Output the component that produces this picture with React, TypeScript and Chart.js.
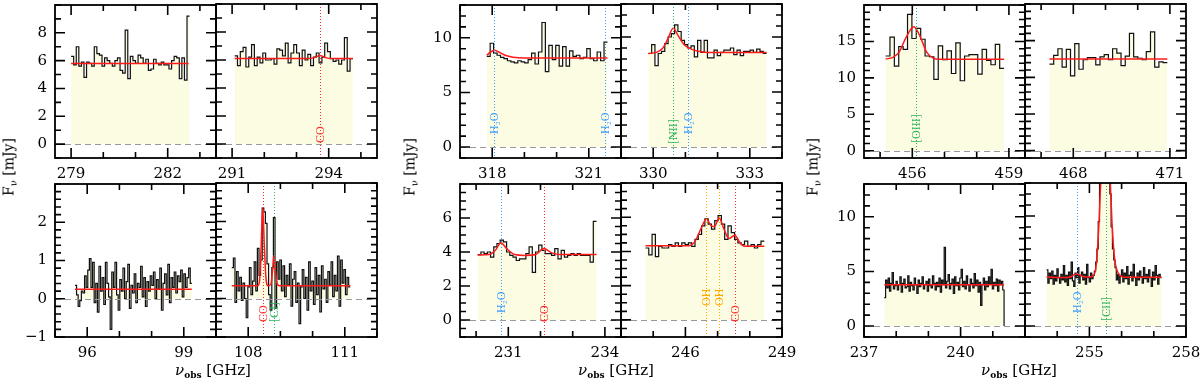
import React, { useEffect, useRef } from "react";
import { Chart, registerables } from "chart.js";
Chart.register(...registerables);

// ---------------- DATA ----------------
const g1TopY = [-1, 10];
const g1TopYLabels = [0, 2, 4, 6, 8];
const g1BotY = [-1, 3];
const g1BotYLabels = [-1, 0, 1, 2];
const g2TopY = [-1, 13];
const g2TopYLabels = [0, 5, 10];
const g2BotY = [-1, 8];
const g2BotYLabels = [0, 2, 4, 6];
const g3TopY = [-1, 20];
const g3TopYLabels = [0, 5, 10, 15];
const g3BotY = [-1, 13];
const g3BotYLabels = [0, 5, 10];

// Panel A (279-282 GHz)
const aRange = [278.5, 283.5];
const aXLabels = [279, 282];
const aSpan = [279.0, 282.68];
const aFlux = [6.3, 5.7, 7.0, 5.6, 5.9, 4.8, 5.9, 5.8, 5.6, 7.0, 6.5, 6.4, 5.6, 6.2, 6.0, 5.8, 5.6, 6.0, 6.2, 5.3, 5.1, 8.2, 4.7, 6.3, 6.0, 5.8, 6.4, 6.2, 5.8, 6.1, 5.3, 5.4, 6.1, 5.8, 5.7, 5.9, 5.7, 5.7, 5.4, 6.0, 6.3, 6.2, 4.7, 6.2, 4.6, 9.2];
const aModel = [[279.0, 5.8], [282.65, 5.8]];
const aLines: [number, string][] = [];

// Panel B (291-294 GHz)
const bRange = [290.5, 295.5];
const bXLabels = [291, 294];
const bSpan = [291.08, 294.75];
const bFlux = [6.3, 5.6, 6.6, 6.9, 5.5, 6.2, 7.1, 5.6, 6.2, 5.8, 6.5, 6.0, 6.0, 6.1, 5.7, 6.8, 6.7, 6.3, 7.2, 5.8, 6.5, 7.1, 6.5, 5.6, 6.7, 6.0, 6.4, 5.6, 6.2, 6.5, 5.8, 6.2, 7.2, 6.6, 6.1, 5.9, 6.0, 5.7, 6.0, 7.6, 5.2, 6.1];
const bModel = [[291.08, 6.1], [293.35, 6.1], [293.55, 6.17], [293.73, 6.32], [293.9, 6.17], [294.1, 6.1], [294.75, 6.1]];
const bLines: [number, string][] = [[293.73, "CO"]];

// Panel C (96-99 GHz)
const cRange = [95, 100];
const cXLabels = [96, 99];
const cSpan = [95.62, 99.25];
const cFlux = [0.35, 0.1, -0.2, -0.05, 0.2, 0.15, 0.6, 0.3, 0.75, 1.05, 0.3, 0.95, -0.1, 0.4, -0.35, 0.85, 0.2, 0.55, -0.15, 0.95, 0.4, 0.05, -0.8, 0.7, 0.3, 0.95, 0.1, -0.3, 0.5, 0.2, 0.8, 0.0, 0.45, 0.9, -0.25, 0.35, 0.15, 0.65, -0.1, 0.4, 0.3, 0.85, 0.05, 0.55, -0.2, 0.45, 0.2, 0.6, 0.35, 0.7, 0.0, 0.5, 0.25, 0.8, -0.3, 0.4, 0.65, 0.1, 0.9, -0.1, 0.55, 0.3, 0.7, 0.15, 0.6, 0.45, 0.75, 0.05, 0.65, 0.3, 0.55, 0.8, 0.4];
const cModel = [[95.62, 0.25], [99.25, 0.25]];
const cLines: [number, string][] = [];

// Panel D (108-111 GHz)
const dRange = [107, 112];
const dXLabels = [108, 111];
const dSpan = [107.49, 111.17];
const dFlux = [0.8, 1.05, -0.1, 0.7, 0.2, 0.55, -0.05, 0.4, 0.0, -0.5, 0.3, 0.8, 0.1, 0.45, 0.95, 0.2, 1.3, 0.6, 1.0, 2.35, 2.25, 1.95, 0.9, 0.1, -0.3, 0.8, 2.1, -0.25, 0.95, 0.5, 1.0, 0.2, 0.85, 0.05, 0.6, 0.35, 0.9, -0.2, 0.5, 0.7, -0.1, 0.4, -0.65, 0.3, 0.75, 0.0, 0.55, -0.3, 0.95, 0.2, 0.45, -0.15, 0.8, 0.1, 0.6, -0.35, 0.85, 0.25, 0.5, -0.1, 0.7, 0.35, 0.95, 0.05, 0.6, 0.2, 1.1, -0.2, 1.0, 0.4, 0.75, 0.1, 0.55, 0.3];
const dModel = [[107.49, 0.33], [108.3, 0.33], [108.35, 0.45], [108.4, 1.3], [108.45, 2.35], [108.5, 1.4], [108.55, 0.55], [108.62, 0.33], [108.7, 0.36], [108.76, 0.75], [108.8, 1.12], [108.84, 0.75], [108.9, 0.38], [108.97, 0.33], [111.17, 0.33]];
const dLines: [number, string][] = [[108.45, "CO"], [108.8, "[CI]"]];

// Panel E (318-321 GHz)
const eRange = [317, 322];
const eXLabels = [318, 321];
const eSpan = [317.83, 321.58];
const eFlux = [8.3, 9.5, 8.6, 8.4, 8.2, 8.1, 7.9, 7.8, 7.7, 7.9, 7.8, 7.7, 8.0, 8.6, 7.6, 8.7, 11.4, 6.9, 9.3, 8.0, 9.3, 7.4, 9.2, 7.4, 8.8, 8.3, 8.4, 8.1, 8.2, 9.0, 8.1, 7.9, 8.7, 7.9, 9.6];
const eModel = [[317.83, 8.4], [317.95, 8.7], [318.07, 8.85], [318.2, 8.7], [318.4, 8.4], [318.65, 8.22], [319.0, 8.15], [321.58, 8.15]];
const eLines: [number, string][] = [[318.07, "H₂O"], [321.5, "H₂O"]];

// Panel F (330-333 GHz)
const fRange = [329, 334];
const fXLabels = [330, 333];
const fSpan = [329.85, 333.52];
const fFlux = [8.5, 9.3, 7.4, 8.5, 8.7, 9.4, 10.0, 10.3, 11.1, 10.5, 9.7, 9.3, 9.0, 9.2, 8.2, 9.7, 8.6, 9.7, 8.1, 8.1, 8.8, 8.3, 8.6, 8.8, 8.8, 9.0, 8.4, 8.8, 8.3, 8.7, 8.7, 8.8, 8.6, 8.9, 8.7, 8.5];
const fModel = [[329.85, 8.5], [330.1, 8.6], [330.3, 9.0], [330.45, 9.8], [330.62, 10.8], [330.78, 10.1], [330.95, 9.35], [331.15, 8.95], [331.4, 8.7], [331.7, 8.6], [333.52, 8.6]];
const fLines: [number, string][] = [[330.62, "[NII]"], [331.09, "H₂O"]];

// Panel G (231-234 GHz)
const gRange = [229.5, 234.5];
const gXLabels = [231, 234];
const gSpan = [230.05, 233.74];
const gFlux = [3.85, 4.0, 3.9, 4.0, 3.7, 4.3, 4.5, 4.7, 4.6, 4.0, 3.8, 3.7, 3.5, 3.6, 3.6, 3.9, 4.3, 2.8, 4.0, 4.4, 4.1, 3.9, 3.9, 3.8, 4.2, 3.6, 4.1, 3.7, 3.8, 3.9, 3.8, 3.9, 3.8, 3.8, 3.8, 3.4, 5.8];
const gModel = [[230.05, 3.82], [230.4, 3.85], [230.6, 4.1], [230.77, 4.55], [230.95, 4.2], [231.2, 3.85], [231.5, 3.8], [231.85, 3.85], [232.1, 4.2], [232.35, 3.95], [232.6, 3.85], [233.74, 3.85]];
const gLines: [number, string][] = [[230.77, "H₂O"], [232.1, "CO"]];

// Panel H (246-249 GHz)
const hRange = [244, 249];
const hXLabels = [246, 249];
const hSpan = [244.76, 248.45];
const hFlux = [4.2, 3.8, 5.0, 3.7, 4.3, 4.2, 4.2, 4.4, 4.3, 4.5, 4.3, 4.5, 4.4, 4.5, 4.3, 4.7, 5.0, 5.5, 5.9, 5.6, 5.3, 5.8, 6.1, 5.6, 4.7, 5.5, 5.1, 4.7, 4.5, 4.4, 4.6, 4.3, 4.4, 4.2, 4.4, 4.6];
const hModel = [[244.76, 4.33], [246.1, 4.33], [246.3, 4.6], [246.5, 5.4], [246.65, 5.9], [246.8, 5.5], [246.9, 5.45], [247.05, 5.95], [247.2, 5.3], [247.35, 4.75], [247.53, 4.95], [247.7, 4.5], [247.85, 4.3], [248.45, 4.3]];
const hLines: [number, string][] = [[246.65, "OH"], [247.05, "OH"], [247.55, "CO"]];

// Panel I (456-459 GHz)
const iRange = [454.5, 459.5];
const iXLabels = [456, 459];
const iSpan = [455.17, 458.85];
const iFlux = [13.0, 15.6, 11.6, 14.3, 13.9, 18.7, 15.4, 16.8, 15.3, 13.0, 12.9, 9.8, 14.4, 12.5, 13.7, 10.6, 14.8, 9.6, 13.0, 13.2, 13.2, 10.5, 13.9, 12.4, 11.8, 14.6, 11.3];
const iModel = [[455.17, 12.6], [455.4, 12.8], [455.6, 13.6], [455.8, 15.5], [456.05, 17.0], [456.25, 15.6], [456.45, 13.5], [456.65, 12.7], [456.85, 12.55], [458.85, 12.55]];
const iLines: [number, string][] = [[456.1, "[OIII]"]];

// Panel J (468-471 GHz)
const jRange = [466.5, 471.5];
const jXLabels = [468, 471];
const jSpan = [467.26, 470.92];
const jFlux = [11.8, 13.0, 13.9, 11.4, 13.8, 10.2, 14.6, 11.1, 12.4, 12.7, 12.7, 11.7, 12.8, 13.1, 12.4, 13.9, 13.3, 11.6, 12.9, 16.0, 12.8, 12.6, 12.4, 13.5, 16.2, 11.4, 12.1, 12.0];
const jModel = [[467.26, 12.5], [470.92, 12.5]];
const jLines: [number, string][] = [];

// Panel K (237-240 GHz)
const kRange = [237, 242];
const kXLabels = [237, 240];
const kSpan = [237.63, 241.35];
const kFlux = [2.6, 4.2, 3.5, 4.4, 3.2, 3.9, 4.9, 3.4, 3.7, 4.1, 3.3, 3.8, 4.5, 3.1, 3.9, 4.3, 3.5, 3.6, 4.6, 3.2, 4.0, 3.7, 3.3, 4.4, 3.8, 3.0, 4.2, 3.6, 3.9, 4.5, 3.4, 3.8, 4.1, 3.2, 4.3, 3.7, 3.5, 4.6, 3.9, 3.3, 4.0, 3.6, 4.4, 3.1, 4.2, 3.8, 7.2, 3.5, 4.1, 4.7, 3.4, 3.9, 4.3, 3.0, 4.5, 3.7, 4.0, 3.3, 4.4, 5.2, 3.6, 4.1, 3.4, 4.6, 3.8, 3.2, 4.3, 3.9, 3.5, 4.8, 3.7, 4.2, 3.1, 4.0, 1.9, 3.8, 4.4, 3.3, 4.1, 3.6, 4.5, 3.9, 5.2, 3.4, 4.0, 3.7, 4.3, 3.2, 4.2, 3.8, 4.1, 3.3];
const kEndFlux = 0;
const kModel = [[237.63, 3.77], [241.35, 3.77]];
const kLines: [number, string][] = [];

// Panel L (255-258 GHz)
const lRange = [253, 258];
const lXLabels = [255, 258];
const lSpan = [253.67, 257.24];
const lFlux = [5.1, 3.9, 4.8, 4.3, 5.0, 3.8, 4.6, 4.1, 5.2, 4.4, 3.9, 4.7, 4.2, 5.5, 4.0, 4.6, 3.7, 4.9, 4.3, 5.8, 4.1, 3.6, 4.8, 4.4, 5.3, 3.9, 4.6, 4.9, 4.2, 4.7, 3.8, 5.6, 4.4, 4.0, 4.8, 4.3, 4.6, 5.0, 5.8, 7.0, 9.5, 13.0, 16.5, 19.0, 20.5, 21.0, 20.0, 18.0, 15.0, 12.0, 9.0, 7.0, 6.0, 5.3, 4.2, 4.7, 3.9, 4.5, 5.1, 4.0, 4.8, 4.3, 5.4, 3.8, 4.6, 4.9, 4.1, 5.6, 4.4, 3.7, 4.8, 4.2, 5.0, 4.5, 3.9, 5.3, 4.3, 4.7, 4.0, 5.1, 4.4, 3.6, 4.9, 4.2, 5.5, 4.6, 3.8, 4.7, 4.4];
const lModel = [[253.67, 4.45], [254.2, 4.4], [254.4, 4.45], [254.6, 4.75], [254.8, 4.5], [255.0, 4.45], [255.15, 4.7], [255.22, 5.8], [255.3, 9.5], [255.38, 15], [255.5, 20], [255.62, 15], [255.7, 9.5], [255.78, 6.2], [255.88, 4.9], [256.0, 4.5], [256.1, 4.43], [257.24, 4.43]];
const lLines: [number, string][] = [[254.6, "H₂O"], [255.5, "[CII]"]];

// ---------------- STYLE / LAYOUT ----------------
const SERIF = "'DejaVu Serif', serif";
const LABEL_FONT = "12px 'Liberation Serif', serif";
const FILL = "#fcfce3";
const MODEL_RED = "#ff1a1a";
const LINE_STYLE: Record<string, { color: string; offset: number }> = {
  "CO": { color: "#ff2a2a", offset: 15 },
  "[CI]": { color: "#2db35a", offset: 15 },
  "[NII]": { color: "#2db35a", offset: 14 },
  "[OIII]": { color: "#2db35a", offset: 15 },
  "[CII]": { color: "#2db35a", offset: 16 },
  "H₂O": { color: "#3a9cff", offset: 24 },
  "OH": { color: "#ffaa00", offset: 31 },
};
const PANEL_W = 161;
const PANEL_H = 154;
const PAD_L = 50;
const PAD_T = 8;
const PAD_R = 24;
const PAD_B = 28;
const GROUP_LEFT = [55, 460, 864];
const ROW_TOP = [4, 183];

type Axis = { range: number[]; labels: number[]; minor: number };
const groupAxes: Axis[][] = [
  [{ range: g1TopY, labels: g1TopYLabels, minor: 1 }, { range: g1BotY, labels: g1BotYLabels, minor: 0.2 }],
  [{ range: g2TopY, labels: g2TopYLabels, minor: 1 }, { range: g2BotY, labels: g2BotYLabels, minor: 0.5 }],
  [{ range: g3TopY, labels: g3TopYLabels, minor: 1 }, { range: g3BotY, labels: g3BotYLabels, minor: 1 }],
];

type PanelCfg = {
  g: number; row: number; col: number;
  range: number[]; xLabels: number[]; span: number[]; flux: number[];
  endFlux?: number; model: number[][]; lines: [number, string][];
};

const panels: PanelCfg[] = [
  { g: 0, row: 0, col: 0, range: aRange, xLabels: aXLabels, span: aSpan, flux: aFlux, model: aModel, lines: aLines },
  { g: 0, row: 0, col: 1, range: bRange, xLabels: bXLabels, span: bSpan, flux: bFlux, model: bModel, lines: bLines },
  { g: 0, row: 1, col: 0, range: cRange, xLabels: cXLabels, span: cSpan, flux: cFlux, model: cModel, lines: cLines },
  { g: 0, row: 1, col: 1, range: dRange, xLabels: dXLabels, span: dSpan, flux: dFlux, model: dModel, lines: dLines },
  { g: 1, row: 0, col: 0, range: eRange, xLabels: eXLabels, span: eSpan, flux: eFlux, model: eModel, lines: eLines },
  { g: 1, row: 0, col: 1, range: fRange, xLabels: fXLabels, span: fSpan, flux: fFlux, model: fModel, lines: fLines },
  { g: 1, row: 1, col: 0, range: gRange, xLabels: gXLabels, span: gSpan, flux: gFlux, model: gModel, lines: gLines },
  { g: 1, row: 1, col: 1, range: hRange, xLabels: hXLabels, span: hSpan, flux: hFlux, model: hModel, lines: hLines },
  { g: 2, row: 0, col: 0, range: iRange, xLabels: iXLabels, span: iSpan, flux: iFlux, model: iModel, lines: iLines },
  { g: 2, row: 0, col: 1, range: jRange, xLabels: jXLabels, span: jSpan, flux: jFlux, model: jModel, lines: jLines },
  { g: 2, row: 1, col: 0, range: kRange, xLabels: kXLabels, span: kSpan, flux: kFlux, endFlux: kEndFlux, model: kModel, lines: kLines },
  { g: 2, row: 1, col: 1, range: lRange, xLabels: lXLabels, span: lSpan, flux: lFlux, model: lModel, lines: lLines },
];

function stepPoints(p: PanelCfg) {
  const n = p.flux.length;
  const w = (p.span[1] - p.span[0]) / n;
  const pts = p.flux.map((v, i) => ({ x: p.span[0] + i * w, y: v }));
  pts.push({ x: p.span[1], y: p.flux[n - 1] });
  if (p.endFlux !== undefined) pts.push({ x: p.span[1], y: p.endFlux });
  return pts;
}

function fmt(v: number) {
  return v < 0 ? "−" + Math.abs(v) : String(v);
}

// tick positions from the scale (minor every `step`, long at labelled values)
function tickList(min: number, max: number, step: number, labels: number[]) {
  const out: { v: number; major: boolean }[] = [];
  const k0 = Math.ceil(min / step - 1e-9);
  const k1 = Math.floor(max / step + 1e-9);
  for (let k = k0; k <= k1; k++) {
    const v = Math.round(k * step * 1000) / 1000;
    out.push({ v, major: labels.some((l) => Math.abs(l - v) < 1e-6) });
  }
  return out;
}

function makeDecor(p: PanelCfg, axis: Axis) {
  return {
    id: "panelDecor" + p.g + p.row + p.col,
    afterDatasetsDraw(chart: any) {
      const ctx: CanvasRenderingContext2D = chart.ctx;
      const a = chart.chartArea;
      const xs = chart.scales.x;
      const ys = chart.scales.y;
      const L = a.left, R = a.right, T = a.top, B = a.bottom;

      // markers and zero line (clipped)
      ctx.save();
      ctx.beginPath();
      ctx.rect(L, T, R - L, B - T);
      ctx.clip();
      const y0 = Math.round(ys.getPixelForValue(0)) + 0.5;
      ctx.strokeStyle = "#9a9a9a";
      ctx.lineWidth = 1;
      ctx.setLineDash([6, 4]);
      ctx.beginPath();
      ctx.moveTo(L, y0);
      ctx.lineTo(R, y0);
      ctx.stroke();
      for (const [freq, label] of p.lines) {
        const st = LINE_STYLE[label];
        const x = Math.round(xs.getPixelForValue(freq)) + 0.5;
        ctx.strokeStyle = st.color;
        ctx.setLineDash([1, 2]);
        ctx.beginPath();
        ctx.moveTo(x, T);
        ctx.lineTo(x, B);
        ctx.stroke();
        ctx.setLineDash([]);
        ctx.save();
        ctx.translate(x, B - st.offset);
        ctx.rotate(-Math.PI / 2);
        ctx.font = LABEL_FONT;
        ctx.fillStyle = st.color;
        ctx.textAlign = "left";
        ctx.textBaseline = "middle";
        ctx.fillText(label, 0, 0);
        ctx.restore();
      }
      ctx.restore();

      // inward tick marks on all four sides
      ctx.save();
      ctx.setLineDash([]);
      ctx.strokeStyle = "#000000";
      ctx.lineWidth = 1.6;
      ctx.beginPath();
      const xt = tickList(p.range[0], p.range[1], 1, p.xLabels);
      for (const t of xt) {
        const x = xs.getPixelForValue(t.v);
        const len = t.major ? 10 : 6;
        ctx.moveTo(x, B);
        ctx.lineTo(x, B - len);
        ctx.moveTo(x, T);
        ctx.lineTo(x, T + len);
      }
      const yt = tickList(axis.range[0], axis.range[1], axis.minor, axis.labels);
      for (const t of yt) {
        const y = ys.getPixelForValue(t.v);
        const len = t.major ? 10 : 6;
        ctx.moveTo(L, y);
        ctx.lineTo(L + len, y);
        ctx.moveTo(R, y);
        ctx.lineTo(R - len, y);
      }
      ctx.stroke();
      // frame
      ctx.lineWidth = 1.8;
      ctx.strokeRect(L, T, R - L, B - T);
      ctx.restore();
    },
  };
}

function Panel({ p }: { p: PanelCfg }) {
  const ref = useRef<HTMLCanvasElement>(null);
  const axis = groupAxes[p.g][p.row];
  const left = GROUP_LEFT[p.g] + p.col * PANEL_W - PAD_L;
  const top = ROW_TOP[p.row] - PAD_T;
  const cw = PAD_L + PANEL_W + PAD_R;
  const ch = PAD_T + PANEL_H + PAD_B;

  useEffect(() => {
    const chart = new Chart(ref.current as HTMLCanvasElement, {
      type: "line",
      data: {
        datasets: [
          {
            data: p.model.map(([x, y]) => ({ x, y })),
            borderColor: MODEL_RED,
            borderWidth: 1.5,
            pointRadius: 0,
            cubicInterpolationMode: "monotone",
            fill: false,
            clip: 0,
          },
          {
            data: stepPoints(p),
            borderColor: "#111",
            borderWidth: 1.2,
            pointRadius: 0,
            stepped: "before",
            fill: { target: "origin", above: FILL, below: FILL },
            backgroundColor: FILL,
            clip: 0,
          },
        ],
      } as any,
      options: {
        animation: false,
        responsive: false,
        maintainAspectRatio: false,
        events: [],
        layout: { padding: { left: 0, top: PAD_T, right: PAD_R, bottom: 0 } },
        plugins: { legend: { display: false }, tooltip: { enabled: false } },
        scales: {
          x: {
            type: "linear",
            min: p.range[0],
            max: p.range[1],
            grid: { display: false },
            border: { display: false },
            ticks: {
              autoSkip: false,
              maxRotation: 0,
              padding: -1,
              color: "#000",
              font: { family: SERIF, size: 15 },
              callback: (v: any) => fmt(Number(v)),
            },
            afterBuildTicks: (s: any) => {
              s.ticks = p.xLabels.map((v) => ({ value: v }));
            },
            afterFit: (s: any) => {
              s.height = PAD_B;
            },
          },
          y: {
            type: "linear",
            min: axis.range[0],
            max: axis.range[1],
            grid: { display: false },
            border: { display: false },
            ticks: {
              display: p.col === 0,
              padding: 0,
              color: "#000",
              font: { family: SERIF, size: 15 },
              callback: (v: any) => fmt(Number(v)),
            },
            afterBuildTicks: (s: any) => {
              s.ticks = axis.labels.map((v) => ({ value: v }));
            },
            afterFit: (s: any) => {
              s.width = PAD_L;
            },
          },
        },
      } as any,
      plugins: [makeDecor(p, axis)],
    });
    return () => chart.destroy();
  }, []);

  return (
    <canvas
      ref={ref}
      width={cw}
      height={ch}
      style={{ position: "absolute", left, top, width: cw, height: ch }}
    />
  );
}

const yLabelPos = [[11, 167], [412, 167], [815, 167]];
const xLabelPos = [[213, 372], [616, 372], [1019, 372]];

export default function App() {
  useEffect(() => {
    document.body.style.margin = "0";
  }, []);
  return (
    <div style={{ position: "relative", width: 1200, height: 380, background: "#fff", overflow: "hidden" }}>
      {panels.map((p, i) => (
        <Panel key={i} p={p} />
      ))}
      {yLabelPos.map(([x, y], i) => (
        <div
          key={"y" + i}
          style={{
            position: "absolute",
            left: x,
            top: y,
            transform: "translate(-50%, -50%) rotate(-90deg)",
            whiteSpace: "nowrap",
            fontFamily: SERIF,
            fontSize: 14,
            lineHeight: "16px",
            color: "#000",
          }}
        >
          F<sub style={{ fontSize: 10, verticalAlign: "-3px" }}>ν</sub> [mJy]
        </div>
      ))}
      {xLabelPos.map(([x, y], i) => (
        <div
          key={"x" + i}
          style={{
            position: "absolute",
            left: x,
            top: y,
            transform: "translate(-50%, -50%)",
            whiteSpace: "nowrap",
            fontFamily: SERIF,
            fontSize: 15,
            lineHeight: "18px",
            color: "#000",
          }}
        >
          <i>ν</i>
          <sub style={{ fontSize: 9, fontWeight: "bold", verticalAlign: "-3px" }}>obs</sub> [GHz]
        </div>
      ))}
    </div>
  );
}
